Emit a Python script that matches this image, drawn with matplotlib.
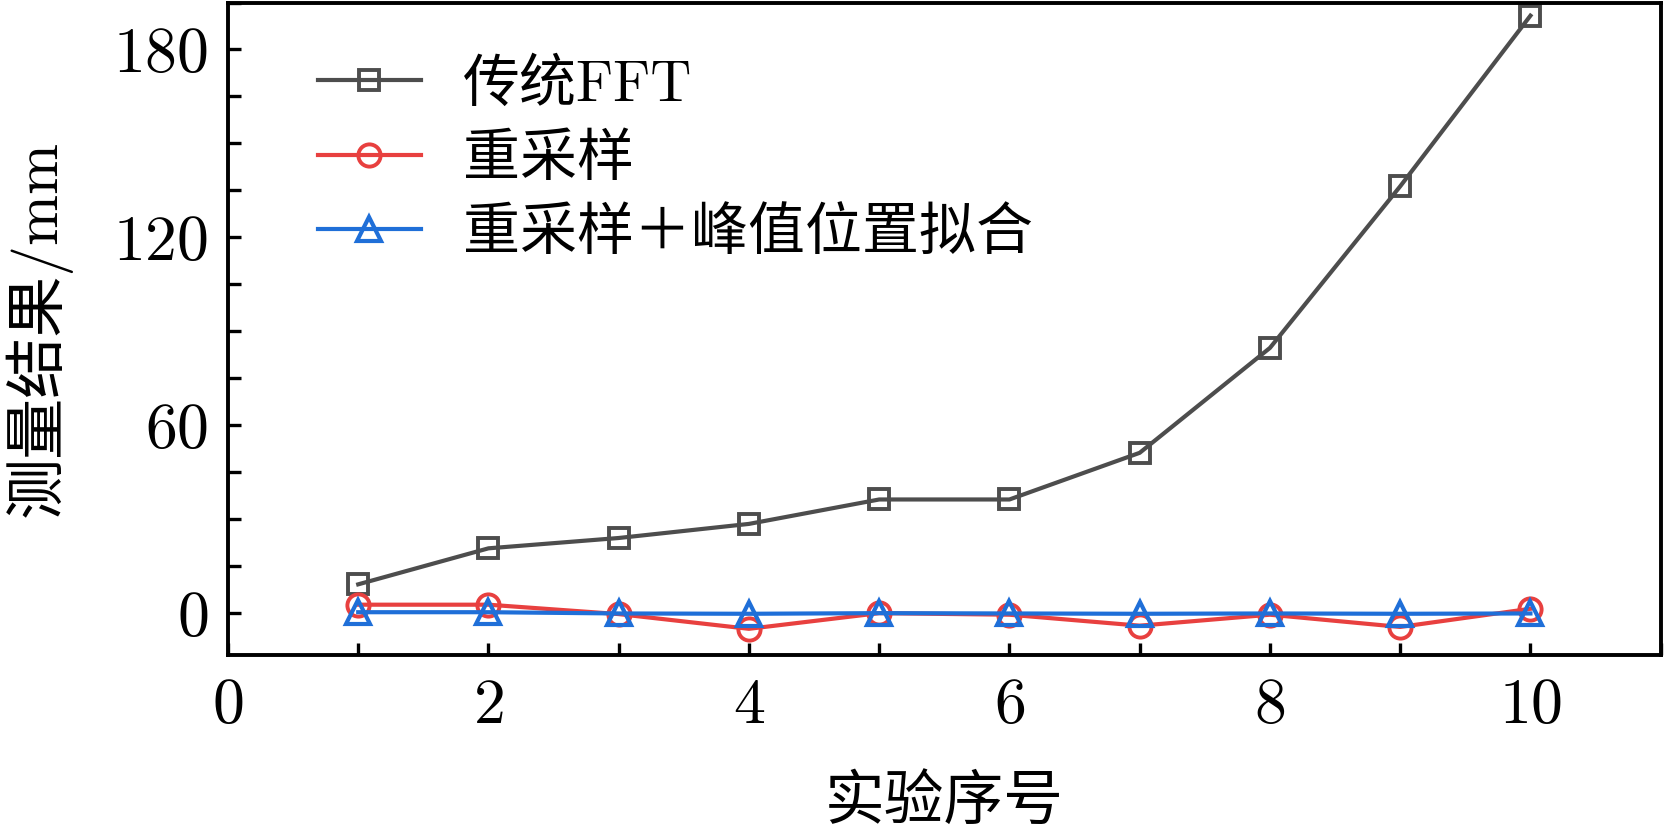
import matplotlib
matplotlib.use("Agg")
import matplotlib.pyplot as plt
from matplotlib.ticker import MultipleLocator

plt.rcParams['font.family'] = ['cmr10', 'Noto Sans CJK SC']
plt.rcParams['axes.formatter.use_mathtext'] = True

# Data
runs = [1, 2, 3, 4, 5, 6, 7, 8, 9, 10]
fft = [9.2, 20.7, 24.0, 28.5, 36.3, 36.3, 51.2, 84.7, 136.3, 190.8]
resample = [2.7, 2.7, -0.3, -5.0, 0.0, -0.5, -4.0, -0.5, -4.4, 1.4]
resample_fit = [0.3, 0.3, -0.1, -0.2, 0.0, -0.1, -0.2, -0.1, -0.2, -0.1]
labels = ["传统FFT", "重采样", "重采样＋峰值位置拟合"]

fig = plt.figure(figsize=(16.64, 8.36), dpi=100)
ax = fig.add_axes([0.137, 0.216, 0.861, 0.781])

ax.plot(runs, fft, color="#4d4d4d", marker="s", mfc="none", ms=15, mew=2.8,
        lw=3, label=labels[0])
ax.plot(runs, resample, color="#e8403f", marker="o", mfc="none", ms=16, mew=2.8,
        lw=3, label=labels[1])
ax.plot(runs, resample_fit, color="#1f6fd8", marker="^", mfc="none", ms=17, mew=3,
        lw=3, label=labels[2])

ax.set_xlim(0, 11)
ax.set_ylim(-13.5, 195)
ax.xaxis.set_major_locator(MultipleLocator(2))
ax.xaxis.set_minor_locator(MultipleLocator(1))
ax.yaxis.set_major_locator(MultipleLocator(60))
ax.yaxis.set_minor_locator(MultipleLocator(15))
ax.tick_params(which="both", direction="in", length=9, width=2.4,
               top=False, right=False, labelsize=46, pad=14)
ax.tick_params(axis="x", pad=16)
for s in ax.spines.values():
    s.set_linewidth(2.8)

ax.set_xlabel("实验序号", fontsize=43, labelpad=28)
ax.set_ylabel("测量结果/mm", fontsize=44, labelpad=30)

ax.legend(loc="upper left", frameon=False, fontsize=41, handlelength=1.8,
          handletextpad=0.75, labelspacing=0.38, borderaxespad=0.0,
          bbox_to_anchor=(0.047, 0.95))

fig.savefig("out.png", dpi=100)
